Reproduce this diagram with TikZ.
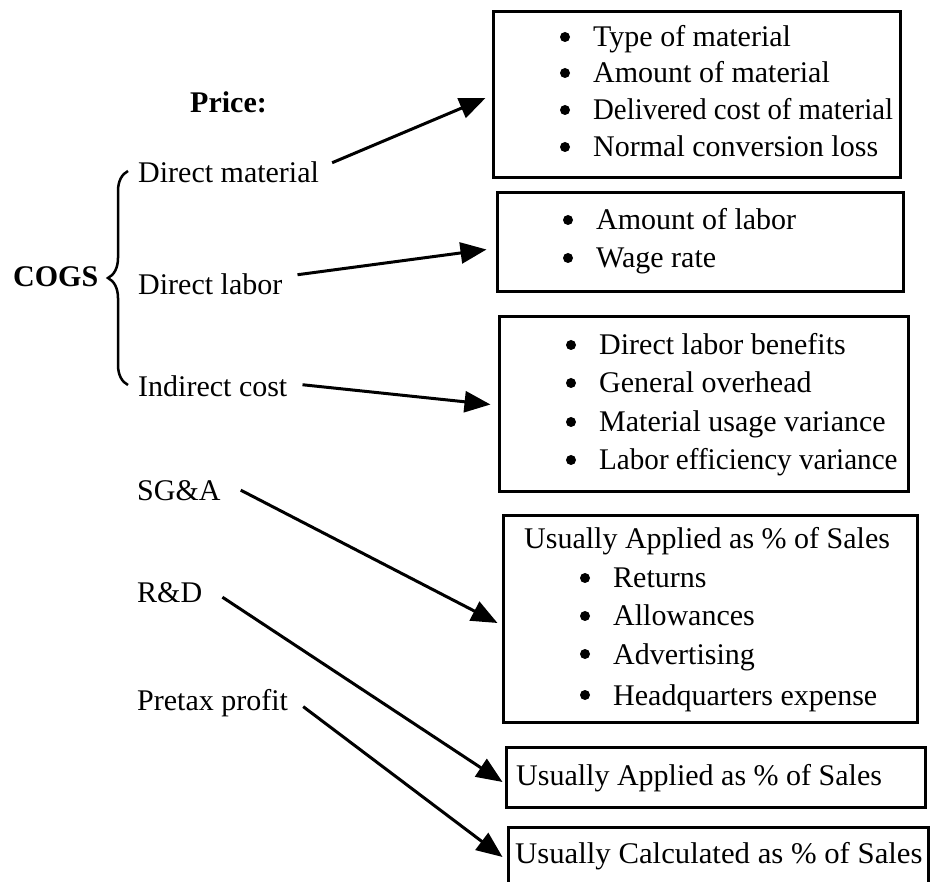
\documentclass[tikz,border=0pt]{standalone}
\usepackage{fontspec}
\usepackage{graphicx}
\setmainfont{Liberation Serif}
\usetikzlibrary{arrows.meta,decorations.pathreplacing}
\tikzset{
  lbl/.style={anchor=base west, inner sep=0pt, font=\fontsize{30}{36}\selectfont},
  item/.style={anchor=base west, inner sep=0pt, font=\fontsize{30}{36}\selectfont},
  frame/.style={draw, line width=3pt, inner sep=0pt},
  arr/.style={line width=3pt, -{Triangle[length=26pt,width=21pt]}},
}
\begin{document}
\begin{tikzpicture}[x=1pt,y=-1pt]
\clip (0,0) rectangle (930,882);
\fill[white] (0,0) rectangle (930,882);

% left-hand labels
\node[lbl, font=\fontsize{30}{36}\selectfont\bfseries] (price) at (190,113) {Price:};
\node[lbl, font=\fontsize{30}{36}\selectfont\bfseries] (cogs) at (13,287) {COGS};
\node[lbl] (dm) at (138,183) {Direct material};
\node[lbl] (dl) at (138,295) {Direct labor};
\node[lbl] (ic) at (138,397) {Indirect cost};
\node[lbl] (sga) at (137,501) {SG\&A};
\node[lbl] (rd) at (137,603) {R\&D};
\node[lbl] (pp) at (137,710) {Pretax profit};

% brace grouping the COGS components
\draw[line width=2.5pt, decorate, decoration={brace, amplitude=20pt}]
  (128,385) -- (128,171);

% boxes
\node[frame, minimum width=407pt, minimum height=166pt] (b1) at (696.5,95) {};
\node[frame, minimum width=406pt, minimum height=99pt] (b2) at (700,242.5) {};
\node[frame, minimum width=409pt, minimum height=175pt] (b3) at (703.5,404.5) {};
\node[frame, minimum width=414pt, minimum height=206pt] (b4) at (710,619) {};
\node[frame, minimum width=419pt, minimum height=60pt] (b5) at (715.5,777) {};
\node[frame, minimum width=420pt, minimum height=78pt] (b6) at (718,866) {};

% box contents
\node[item] (t11) at (593,47) {Type of material};
\node[item] (t12) at (593,83) {Amount of material};
\node[item] (t13) at (593,120) {\scalebox{0.96}[1]{Delivered cost of material}};
\node[item] (t14) at (593,157) {Normal conversion loss};

\node[item] (t21) at (596,230) {Amount of labor};
\node[item] (t22) at (596,268) {Wage rate};

\node[item] (t31) at (599,355) {Direct labor benefits};
\node[item] (t32) at (599,393) {General overhead};
\node[item] (t33) at (599,432) {Material usage variance};
\node[item] (t34) at (599,470) {\scalebox{0.97}[1]{Labor efficiency variance}};

\node[item] (t40) at (524,549) {Usually Applied as \% of Sales};
\node[item] (t41) at (613,588) {Returns};
\node[item] (t42) at (613,626) {Allowances};
\node[item] (t43) at (613,664) {Advertising};
\node[item] (t44) at (613,705) {Headquarters expense};

\node[item] (t5) at (516,785) {Usually Applied as \% of Sales};
\node[item] (t6) at (515,863) {\scalebox{1.025}[1]{Usually Calculated as \% of Sales}};

% bullets in front of the list items
\foreach \n in {t11,t12,t13,t14,t21,t22,t31,t32,t33,t34,t41,t42,t43,t44}
  \fill ([xshift=-28pt,yshift=10pt]\n.base west) circle (5pt);

% connectors
\draw[arr] ([xshift=13pt,yshift=10pt]dm.east) -- ([xshift=-6pt,yshift=-3pt]b1.west);
\draw[arr] ([xshift=15pt,yshift=10pt]dl.east) -- ([xshift=-9pt,yshift=-7pt]b2.west);
\draw[arr] ([xshift=15pt,yshift=2pt]ic.east) -- ([xshift=-7pt]b3.west);
\draw[arr] ([xshift=20pt,yshift=1pt]sga.east) -- ([xshift=-4pt,yshift=-4pt]b4.west);
\draw[arr] ([xshift=20pt,yshift=-4pt]rd.east) -- ([xshift=-2pt,yshift=-5pt]b5.west);
\draw[arr] ([xshift=15pt,yshift=-4pt]pp.east) -- ([xshift=-4pt,yshift=9pt]b6.west);
\end{tikzpicture}
\end{document}
